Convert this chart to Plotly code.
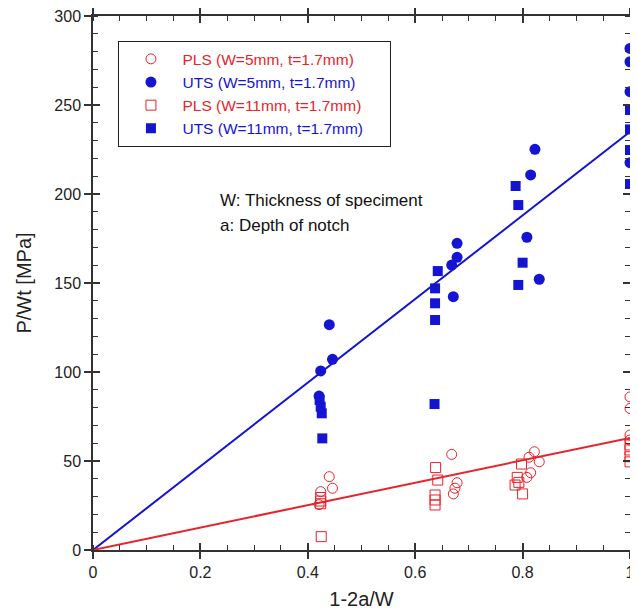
import plotly.graph_objects as go

# ---- data ----
pls5_x = [0.440, 0.446, 0.424, 0.421, 0.668, 0.678, 0.674, 0.671, 0.822, 0.812, 0.831, 0.815, 0.808, 1.0, 1.0, 1.0, 1.0]
pls5_y = [41.2, 34.7, 32.8, 25.5, 53.7, 37.8, 34.7, 31.5, 55.2, 52.1, 49.6, 43.4, 40.8, 86.0, 79.5, 64.6, 61.8]

uts5_x = [0.440, 0.446, 0.424, 0.421, 0.678, 0.678, 0.668, 0.671, 0.823, 0.815, 0.808, 0.831, 1.0, 1.0, 1.0, 1.0]
uts5_y = [126.6, 107.1, 100.6, 86.5, 172.3, 164.4, 160.1, 142.3, 225.1, 210.7, 175.7, 152.1, 281.8, 274.3, 257.5, 217.6]

pls11_x = [0.424, 0.424, 0.424, 0.425, 0.638, 0.642, 0.637, 0.637, 0.637, 0.798, 0.790, 0.793, 0.786, 0.800, 1.0, 1.0, 1.0, 1.0]
pls11_y = [29.5, 27.5, 26.0, 7.5, 46.3, 39.3, 30.9, 28.1, 25.3, 48.3, 40.8, 38.0, 36.5, 31.5, 59.0, 56.2, 52.4, 49.5]

uts11_x = [0.422, 0.424, 0.426, 0.427, 0.642, 0.637, 0.637, 0.637, 0.636, 0.787, 0.792, 0.800, 0.792, 1.0, 1.0, 1.0, 1.0]
uts11_y = [84.3, 80.5, 76.8, 62.7, 156.7, 147.0, 138.6, 129.2, 82.0, 204.5, 193.8, 161.4, 148.9, 247.2, 236.3, 224.7, 205.6]

fit_x = [0, 1]
uts_fit_y = [0, 235]
pls_fit_y = [0, 63]

x_ticks = [0, 0.2, 0.4, 0.6, 0.8, 1]
y_ticks = [0, 50, 100, 150, 200, 250, 300]

RED = "#e8232b"
BLUE = "#1414d2"
FONT = "Liberation Sans, Arial, sans-serif"
PAD = "&nbsp;" * 5

fig = go.Figure()

fig.add_trace(go.Scatter(x=fit_x, y=uts_fit_y, mode="lines", line=dict(color=BLUE, width=2),
                         showlegend=False, hoverinfo="skip"))
fig.add_trace(go.Scatter(x=fit_x, y=pls_fit_y, mode="lines", line=dict(color=RED, width=2),
                         showlegend=False, hoverinfo="skip"))

fig.add_trace(go.Scatter(x=pls5_x, y=pls5_y, mode="markers", cliponaxis=False,
                         name=f'<span style="color:{RED}">PLS (W=5mm, t=1.7mm)</span>{PAD}',
                         marker=dict(symbol="circle-open", size=10, color=RED, line=dict(width=1))))
fig.add_trace(go.Scatter(x=uts5_x, y=uts5_y, mode="markers", cliponaxis=False,
                         name=f'<span style="color:{BLUE}">UTS (W=5mm, t=1.7mm)</span>{PAD}',
                         marker=dict(symbol="circle", size=11, color=BLUE)))
fig.add_trace(go.Scatter(x=pls11_x, y=pls11_y, mode="markers", cliponaxis=False,
                         name=f'<span style="color:{RED}">PLS (W=11mm, t=1.7mm)</span>{PAD}',
                         marker=dict(symbol="square-open", size=10, color=RED, line=dict(width=1))))
fig.add_trace(go.Scatter(x=uts11_x, y=uts11_y, mode="markers", cliponaxis=False,
                         name=f'<span style="color:{BLUE}">UTS (W=11mm, t=1.7mm)</span>{PAD}',
                         marker=dict(symbol="square", size=10, color=BLUE)))

# invisible trace to create overlay axes for inward major ticks
fig.add_trace(go.Scatter(x=[None], y=[None], xaxis="x2", yaxis="y2", mode="markers",
                         showlegend=False, hoverinfo="skip"))

axis_common = dict(showgrid=False, zeroline=False, showline=True, linecolor="#333",
                   linewidth=1.5, mirror="allticks", tickcolor="#333", tickwidth=1.5,
                   automargin=False)

fig.update_layout(
    width=630, height=608,
    margin=dict(l=85, r=8, t=8, b=66, autoexpand=False),
    paper_bgcolor="white", plot_bgcolor="white",
    font=dict(family=FONT, color="#222"),
    xaxis=dict(range=[0, 1], tickvals=x_ticks, ticks="outside", ticklen=7,
               tickfont=dict(size=16), ticklabeloverflow="allow",
               minor=dict(dtick=0.05, ticks="inside", ticklen=5, tickcolor="#333", tickwidth=1.2),
               title=dict(text="1-2a/W", font=dict(size=20), standoff=12),
               **axis_common),
    yaxis=dict(range=[0, 300], tickvals=y_ticks, ticks="outside", ticklen=7,
               tickfont=dict(size=16), ticklabeloverflow="allow",
               minor=dict(dtick=10, ticks="inside", ticklen=5, tickcolor="#333", tickwidth=1.2),
               title=dict(text="P/Wt [MPa]", font=dict(size=20), standoff=17),
               **axis_common),
    xaxis2=dict(range=[0, 1], overlaying="x", tickvals=x_ticks, ticks="inside", ticklen=7,
                showticklabels=False, **axis_common),
    yaxis2=dict(range=[0, 300], overlaying="y", tickvals=y_ticks, ticks="inside", ticklen=7,
                showticklabels=False, **axis_common),
    legend=dict(x=0.047, y=0.953, xanchor="left", yanchor="top",
                bordercolor="#222", borderwidth=1.2, bgcolor="white",
                font=dict(size=15.5, family=FONT), itemwidth=53, tracegroupgap=0),
    showlegend=True,
)

fig.add_annotation(x=0.233, y=0.655, xref="paper", yref="paper", xanchor="left", yanchor="middle",
                   text="W: Thickness of speciment", showarrow=False,
                   font=dict(size=17, color="#111", family=FONT))
fig.add_annotation(x=0.233, y=0.608, xref="paper", yref="paper", xanchor="left", yanchor="middle",
                   text="a: Depth of notch", showarrow=False,
                   font=dict(size=17, color="#111", family=FONT))

fig.write_html("out.html")
